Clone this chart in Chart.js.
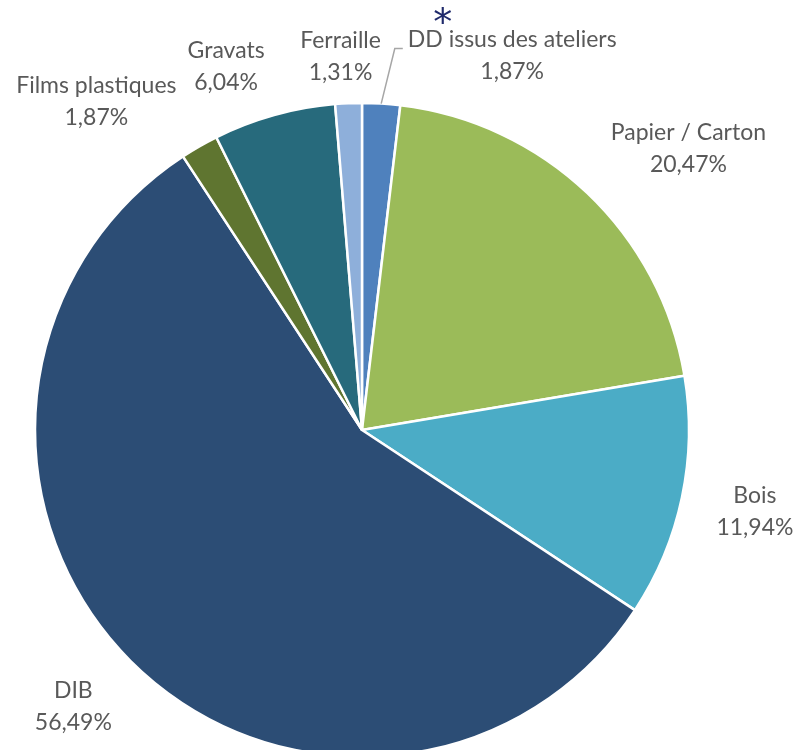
<!DOCTYPE html>
<html><head><meta charset="utf-8">
<script src="https://cdn.jsdelivr.net/npm/chart.js@4/dist/chart.umd.min.js"></script>
<style>html,body{margin:0;padding:0;background:#fff;overflow:hidden;width:800px;height:750px}#wrap{width:800px;height:860px}</style>
</head><body><div id="wrap"><canvas id="c" width="800" height="860"></canvas></div>
<script>
const categories = ["DD issus des ateliers","Papier / Carton","Bois","DIB","Films plastiques","Gravats","Ferraille"];
const values = [1.87, 20.47, 11.94, 56.49, 1.87, 6.04, 1.31];
const valueLabels = ["1,87%","20,47%","11,94%","56,49%","1,87%","6,04%","1,31%"];
const colors = ["#4F81BD","#9BBB59","#4BACC6","#2C4D75","#5F7530","#276A7C","#8EAFDA"];
// label offsets from each slice's outer mid-point
const labelOffsets = [[131,-48],[101,-45],[73,14],[-57,46],[-103,-45],[-48,-48],[-8,-47]];

const FONT = '23px Lato, "Open Sans", sans-serif';
const labelPlugin = {
  id: 'pieLabels',
  afterDatasetsDraw(chart) {
    const ctx = chart.ctx;
    const meta = chart.getDatasetMeta(0);
    ctx.save();
    ctx.font = FONT;
    ctx.textAlign = 'center';
    ctx.textBaseline = 'middle';
    meta.data.forEach((arc, i) => {
      const p = arc.getProps(['x','y','startAngle','endAngle','outerRadius'], true);
      const mid = (p.startAngle + p.endAngle) / 2;
      const ox = p.x + Math.cos(mid) * p.outerRadius;
      const oy = p.y + Math.sin(mid) * p.outerRadius;
      const lx = ox + labelOffsets[i][0];
      const ly = oy + labelOffsets[i][1];
      ctx.fillStyle = '#595959';
      ctx.fillText(categories[i], lx, ly - 16);
      ctx.fillText(valueLabels[i], lx, ly + 16);
      if (i === 0) {
        const w = ctx.measureText(categories[i]).width;
        const left = lx - w / 2;
        ctx.strokeStyle = '#A6A6A6';
        ctx.lineWidth = 1.5;
        ctx.beginPath();
        ctx.moveTo(left - 5, ly - 7);
        ctx.lineTo(left - 13, ly - 7);
        ctx.lineTo(ox, oy);
        ctx.stroke();
        ctx.fillStyle = '#1F2A6B';
        ctx.font = '38px "DejaVu Sans", sans-serif';
        ctx.fillText('*', left + 35, ly - 30);
        ctx.font = FONT;
      }
    });
    ctx.restore();
  }
};

new Chart(document.getElementById('c'), {
  type: 'pie',
  data: { labels: categories, datasets: [{ data: values, backgroundColor: colors, borderColor: '#ffffff', borderWidth: 2.5, radius: 327 }] },
  options: {
    responsive: false, animation: false,
    layout: { padding: { left: 0, right: 76, top: 0, bottom: 0 } },
    plugins: { legend: { display: false }, tooltip: { enabled: false } }
  },
  plugins: [labelPlugin]
});
</script></body></html>
